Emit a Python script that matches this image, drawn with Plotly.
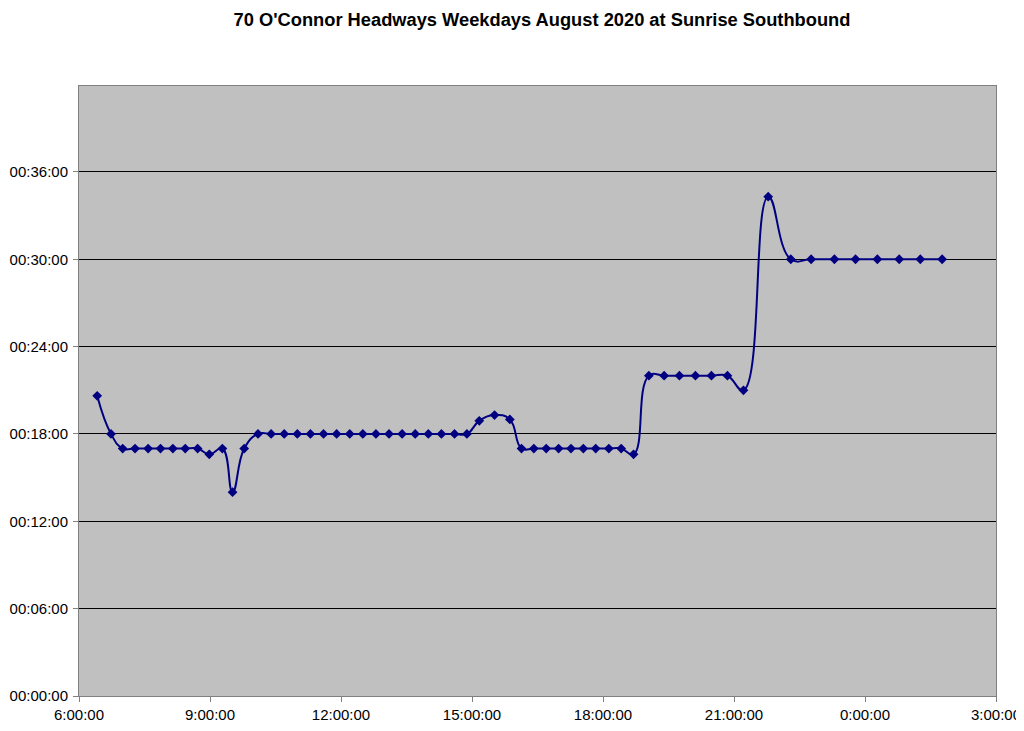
import plotly.graph_objects as go

# Departure times (h:mm, hours past 24 for after midnight) and headways (mm:ss)
departures = [
    "6:25", "6:44", "7:00", "7:17", "7:35", "7:52", "8:09", "8:26", "8:43", "8:59",
    "9:17", "9:31", "9:47", "10:06", "10:24", "10:42", "11:00", "11:18", "11:36", "11:54",
    "12:12", "12:30", "12:48", "13:06", "13:24", "13:42", "14:00", "14:18", "14:36", "14:53",
    "15:10", "15:31", "15:52", "16:08", "16:25", "16:42", "16:59", "17:16", "17:33", "17:50",
    "18:08", "18:25", "18:42", "19:03", "19:24", "19:45", "20:07", "20:29", "20:51", "21:13",
    "21:47", "22:18", "22:46", "23:18", "23:47", "24:17", "24:47", "25:16", "25:46",
]
headways = [
    "20:37", "18:00", "17:00", "17:00", "17:00", "17:00", "17:00", "17:00", "17:00", "16:36",
    "17:00", "14:00", "17:00", "18:00", "18:00", "18:00", "18:00", "18:00", "18:00", "18:00",
    "18:00", "18:00", "18:00", "18:00", "18:00", "18:00", "18:00", "18:00", "18:00", "18:00",
    "18:54", "19:18", "19:00", "17:00", "17:00", "17:00", "17:00", "17:00", "17:00", "17:00",
    "17:00", "17:00", "16:36", "22:00", "22:00", "22:00", "22:00", "22:00", "22:00", "21:00",
    "34:18", "30:00", "30:00", "30:00", "30:00", "30:00", "30:00", "30:00", "30:00",
]
x_tick_hours = [6, 9, 12, 15, 18, 21, 24, 27]
x_tick_labels = ["6:00:00", "9:00:00", "12:00:00", "15:00:00", "18:00:00", "21:00:00", "0:00:00", "3:00:00"]
y_tick_minutes = [0, 6, 12, 18, 24, 30, 36]
y_tick_labels = ["00:00:00", "00:06:00", "00:12:00", "00:18:00", "00:24:00", "00:30:00", "00:36:00"]


def hm_to_hours(s):
    h, m = s.split(":")
    return int(h) + int(m) / 60.0


def ms_to_minutes(s):
    m, sec = s.split(":")
    return int(m) + int(sec) / 60.0


xs = [hm_to_hours(s) for s in departures]
ys = [ms_to_minutes(s) for s in headways]

fig = go.Figure()
fig.add_trace(go.Scatter(
    x=xs, y=ys, mode="lines+markers",
    line=dict(color="#000080", width=2, shape="spline", smoothing=1.3),
    marker=dict(symbol="diamond", size=7.5, color="#000080"),
    showlegend=False,
))

fig.update_layout(
    width=1024, height=731,
    margin=dict(l=71, r=36, t=78, b=43),
    paper_bgcolor="white",
    plot_bgcolor="#C0C0C0",
    font=dict(family="Liberation Sans, Arial, sans-serif", size=15, color="black"),
    title=dict(
        text="<b>70 O'Connor Headways Weekdays August 2020 at Sunrise Southbound</b>",
        x=0.5215, xanchor="center", y=0.984, yanchor="middle",
        font=dict(size=18.3, family="Liberation Sans, Arial, sans-serif", color="black"),
    ),
)
fig.update_xaxes(
    range=[6, 27], tickvals=x_tick_hours, ticktext=x_tick_labels,
    showgrid=False, zeroline=False, automargin=False,
    showline=True, linecolor="#808080", linewidth=1, mirror=True,
    ticks="outside", ticklen=5, tickcolor="#808080",
)
fig.update_yaxes(
    range=[0, 41.9], tickvals=y_tick_minutes, ticktext=y_tick_labels,
    showgrid=True, gridcolor="black", gridwidth=1, zeroline=False, automargin=False,
    showline=True, linecolor="#808080", linewidth=1, mirror=True,
    ticks="outside", ticklen=5, tickcolor="#808080", ticklabelstandoff=2,
)

fig.write_html("out.html")
